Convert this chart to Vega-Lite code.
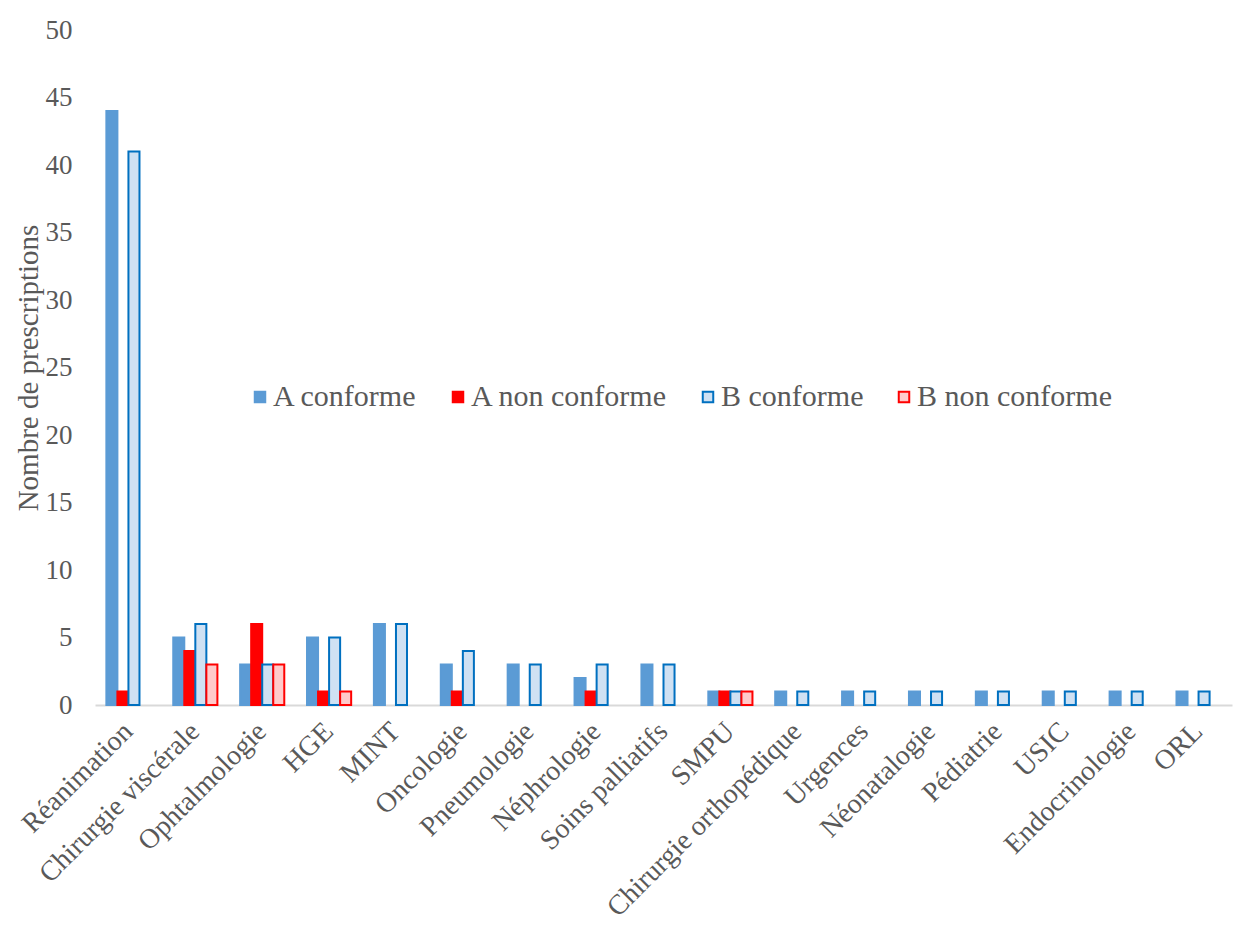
{
  "$schema": "https://vega.github.io/schema/vega-lite/v6.json",
  "width": 1137,
  "height": 675,
  "autosize": {"type": "none"},
  "padding": {"left": 95, "top": 30, "right": 2, "bottom": 225},
  "background": "white",
  "config": {
    "view": {"stroke": null},
    "font": "Liberation Serif",
    "axis": {"labelFont": "Liberation Serif", "titleFont": "Liberation Serif", "labelColor": "#595959", "titleColor": "#595959", "titleFontWeight": "normal"},
    "legend": {"labelFont": "Liberation Serif", "labelColor": "#595959"}
  },
  "data": {
    "values": [
      {"service": "Réanimation", "serie": "A conforme", "value": 44},
      {"service": "Réanimation", "serie": "A non conforme", "value": 1},
      {"service": "Réanimation", "serie": "B conforme", "value": 41},
      {"service": "Réanimation", "serie": "B non conforme", "value": 0},
      {"service": "Chirurgie viscérale", "serie": "A conforme", "value": 5},
      {"service": "Chirurgie viscérale", "serie": "A non conforme", "value": 4},
      {"service": "Chirurgie viscérale", "serie": "B conforme", "value": 6},
      {"service": "Chirurgie viscérale", "serie": "B non conforme", "value": 3},
      {"service": "Ophtalmologie", "serie": "A conforme", "value": 3},
      {"service": "Ophtalmologie", "serie": "A non conforme", "value": 6},
      {"service": "Ophtalmologie", "serie": "B conforme", "value": 3},
      {"service": "Ophtalmologie", "serie": "B non conforme", "value": 3},
      {"service": "HGE", "serie": "A conforme", "value": 5},
      {"service": "HGE", "serie": "A non conforme", "value": 1},
      {"service": "HGE", "serie": "B conforme", "value": 5},
      {"service": "HGE", "serie": "B non conforme", "value": 1},
      {"service": "MINT", "serie": "A conforme", "value": 6},
      {"service": "MINT", "serie": "A non conforme", "value": 0},
      {"service": "MINT", "serie": "B conforme", "value": 6},
      {"service": "MINT", "serie": "B non conforme", "value": 0},
      {"service": "Oncologie", "serie": "A conforme", "value": 3},
      {"service": "Oncologie", "serie": "A non conforme", "value": 1},
      {"service": "Oncologie", "serie": "B conforme", "value": 4},
      {"service": "Oncologie", "serie": "B non conforme", "value": 0},
      {"service": "Pneumologie", "serie": "A conforme", "value": 3},
      {"service": "Pneumologie", "serie": "A non conforme", "value": 0},
      {"service": "Pneumologie", "serie": "B conforme", "value": 3},
      {"service": "Pneumologie", "serie": "B non conforme", "value": 0},
      {"service": "Néphrologie", "serie": "A conforme", "value": 2},
      {"service": "Néphrologie", "serie": "A non conforme", "value": 1},
      {"service": "Néphrologie", "serie": "B conforme", "value": 3},
      {"service": "Néphrologie", "serie": "B non conforme", "value": 0},
      {"service": "Soins palliatifs", "serie": "A conforme", "value": 3},
      {"service": "Soins palliatifs", "serie": "A non conforme", "value": 0},
      {"service": "Soins palliatifs", "serie": "B conforme", "value": 3},
      {"service": "Soins palliatifs", "serie": "B non conforme", "value": 0},
      {"service": "SMPU", "serie": "A conforme", "value": 1},
      {"service": "SMPU", "serie": "A non conforme", "value": 1},
      {"service": "SMPU", "serie": "B conforme", "value": 1},
      {"service": "SMPU", "serie": "B non conforme", "value": 1},
      {"service": "Chirurgie orthopédique", "serie": "A conforme", "value": 1},
      {"service": "Chirurgie orthopédique", "serie": "A non conforme", "value": 0},
      {"service": "Chirurgie orthopédique", "serie": "B conforme", "value": 1},
      {"service": "Chirurgie orthopédique", "serie": "B non conforme", "value": 0},
      {"service": "Urgences", "serie": "A conforme", "value": 1},
      {"service": "Urgences", "serie": "A non conforme", "value": 0},
      {"service": "Urgences", "serie": "B conforme", "value": 1},
      {"service": "Urgences", "serie": "B non conforme", "value": 0},
      {"service": "Néonatalogie", "serie": "A conforme", "value": 1},
      {"service": "Néonatalogie", "serie": "A non conforme", "value": 0},
      {"service": "Néonatalogie", "serie": "B conforme", "value": 1},
      {"service": "Néonatalogie", "serie": "B non conforme", "value": 0},
      {"service": "Pédiatrie", "serie": "A conforme", "value": 1},
      {"service": "Pédiatrie", "serie": "A non conforme", "value": 0},
      {"service": "Pédiatrie", "serie": "B conforme", "value": 1},
      {"service": "Pédiatrie", "serie": "B non conforme", "value": 0},
      {"service": "USIC", "serie": "A conforme", "value": 1},
      {"service": "USIC", "serie": "A non conforme", "value": 0},
      {"service": "USIC", "serie": "B conforme", "value": 1},
      {"service": "USIC", "serie": "B non conforme", "value": 0},
      {"service": "Endocrinologie", "serie": "A conforme", "value": 1},
      {"service": "Endocrinologie", "serie": "A non conforme", "value": 0},
      {"service": "Endocrinologie", "serie": "B conforme", "value": 1},
      {"service": "Endocrinologie", "serie": "B non conforme", "value": 0},
      {"service": "ORL", "serie": "A conforme", "value": 1},
      {"service": "ORL", "serie": "A non conforme", "value": 0},
      {"service": "ORL", "serie": "B conforme", "value": 1},
      {"service": "ORL", "serie": "B non conforme", "value": 0}
    ]
  },
  "transform": [{"filter": "datum.value > 0"}],
  "mark": {"type": "bar", "strokeWidth": 2},
  "encoding": {
    "x": {
      "field": "service",
      "type": "nominal",
      "sort": null,
      "scale": {"paddingInner": 0.34, "paddingOuter": 0.17},
      "axis": {
        "title": null,
        "labelAngle": -45,
        "labelAlign": "right",
        "labelBaseline": "middle",
        "labelFontSize": 28,
        "labelPadding": 22,
        "ticks": false,
        "domainColor": "#d9d9d9",
        "domainWidth": 2,
        "labelOverlap": false,
        "labelLimit": 0
      }
    },
    "xOffset": {
      "field": "serie",
      "type": "nominal",
      "scale": {"domain": ["A conforme", "A non conforme", "B conforme", "B non conforme"], "paddingInner": 0, "paddingOuter": 0}
    },
    "y": {
      "field": "value",
      "type": "quantitative",
      "scale": {"domain": [0, 50]},
      "axis": {
        "title": "Nombre de prescriptions",
        "titleFontSize": 29,
        "titlePadding": 2,
        "values": [0, 5, 10, 15, 20, 25, 30, 35, 40, 45, 50],
        "labelFontSize": 27,
        "labelPadding": 23,
        "ticks": false,
        "domain": false,
        "grid": false
      }
    },
    "color": {
      "field": "serie",
      "type": "nominal",
      "scale": {"domain": ["A conforme", "A non conforme", "B conforme", "B non conforme"], "range": ["#5B9BD5", "#FF0000", "#cfe1f3", "#ffcaca"]},
      "legend": {
        "title": null,
        "orient": "none",
        "direction": "horizontal",
        "legendX": 150,
        "legendY": 352,
        "labelFontSize": 30,
        "labelLimit": 0,
        "symbolType": "square",
        "symbolSize": 110,
        "symbolStrokeWidth": 2,
        "labelOffset": -2,
        "columnPadding": 25
      }
    },
    "stroke": {
      "field": "serie",
      "type": "nominal",
      "scale": {"domain": ["A conforme", "A non conforme", "B conforme", "B non conforme"], "range": ["#5B9BD5", "#FF0000", "#0070C0", "#FF0000"]},
      "legend": null
    }
  }
}
